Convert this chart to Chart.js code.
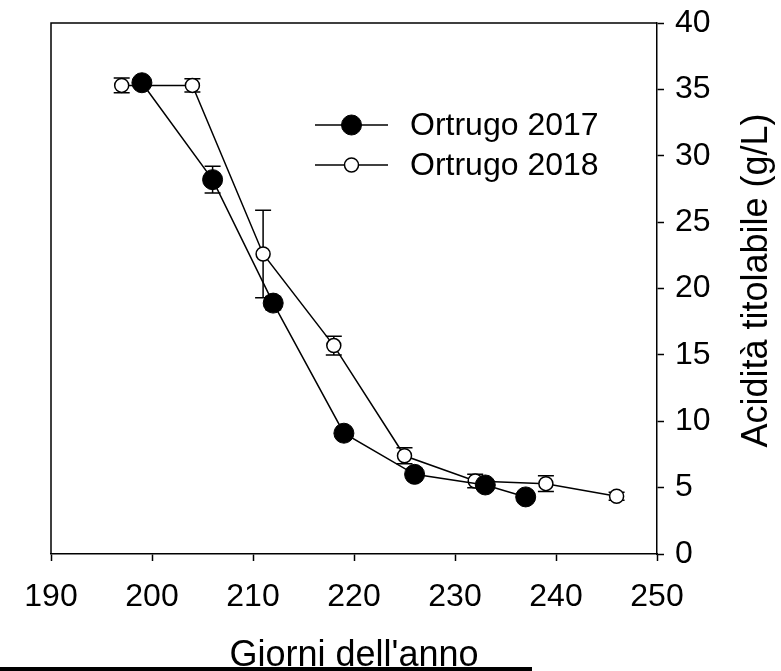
<!DOCTYPE html>
<html>
<head>
<meta charset="utf-8">
<script src="https://cdn.jsdelivr.net/npm/chart.js@4/dist/chart.umd.min.js"></script>
<style>
  html, body { margin: 0; padding: 0; background: #fff; overflow: hidden; }
</style>
</head>
<body>
<canvas id="acidChart" width="781" height="671"></canvas>
<script>
// giorni dell'anno e acidità titolabile (g/L)
const days2017 = [199, 206, 212, 219, 226, 233, 237];
const acid2017 = [35.5, 28.2, 18.9, 9.1, 6.0, 5.2, 4.3];
const err2017 = [0.3, 1.0, 0.5, 0.4, 0.4, 0.4, 0.3];

const days2018 = [197, 204, 211, 218, 225, 232, 239, 246];
const acid2018 = [35.3, 35.3, 22.6, 15.7, 7.4, 5.5, 5.3, 4.35];
const err2018 = [0.55, 0.5, 3.3, 0.7, 0.6, 0.5, 0.6, 0.3];

const seriesLabels = ["Ortrugo 2017", "Ortrugo 2018"];
const xTitle = "Giorni dell'anno";
const yTitle = "Acidità titolabile (g/L)";

const FONT = "'Liberation Sans', Arial, sans-serif";
const TICK_SIZE = 32;
const TITLE_SIZE = 36;

Chart.defaults.font.family = FONT;
Chart.defaults.color = "#000";

function toPoints(xs, ys) {
    return xs.map((x, i) => ({ x: x, y: ys[i] }));
}

// error bars go under the markers
const errorBars = {
    id: "errorBars",
    beforeDatasetsDraw(chart) {
        const ctx = chart.ctx;
        const xs = chart.scales.x;
        const ys = chart.scales.y;
        ctx.save();
        ctx.strokeStyle = "#000";
        ctx.lineWidth = 1.5;
        chart.data.datasets.forEach(ds => {
            ds.data.forEach((p, i) => {
                const e = ds.errors[i];
                if (!e) return;
                const px = xs.getPixelForValue(p.x);
                const top = ys.getPixelForValue(p.y + e);
                const bot = ys.getPixelForValue(p.y - e);
                ctx.beginPath();
                ctx.moveTo(px, top);
                ctx.lineTo(px, bot);
                ctx.moveTo(px - 8, top);
                ctx.lineTo(px + 8, top);
                ctx.moveTo(px - 8, bot);
                ctx.lineTo(px + 8, bot);
                ctx.stroke();
            });
        });
        ctx.restore();
    }
};

const extras = {
    id: "extras",
    afterDraw(chart) {
        const ctx = chart.ctx;
        const area = chart.chartArea;
        ctx.save();

        // top and left frame
        ctx.strokeStyle = "#000";
        ctx.lineWidth = 1.5;
        ctx.beginPath();
        ctx.moveTo(area.left, area.bottom);
        ctx.lineTo(area.left, area.top);
        ctx.lineTo(area.right, area.top);
        ctx.stroke();

        // legend
        ctx.font = TICK_SIZE + "px " + FONT;
        ctx.textBaseline = "middle";
        ctx.textAlign = "left";
        chart.data.datasets.forEach((ds, i) => {
            const ly = 125 + 40 * i;
            ctx.beginPath();
            ctx.lineWidth = 1.5;
            ctx.moveTo(315, ly);
            ctx.lineTo(388, ly);
            ctx.stroke();
            ctx.beginPath();
            ctx.arc(351.5, ly, ds.pointRadius, 0, 2 * Math.PI);
            ctx.fillStyle = ds.pointBackgroundColor;
            ctx.fill();
            ctx.lineWidth = ds.pointBorderWidth;
            ctx.stroke();
            ctx.fillStyle = "#000";
            ctx.fillText(ds.label, 410, ly + 1);
        });

        // right-hand axis title, reading bottom to top
        ctx.save();
        ctx.font = TITLE_SIZE + "px " + FONT;
        ctx.translate(757, (area.top + area.bottom) / 2 - 8);
        ctx.rotate(-Math.PI / 2);
        ctx.textAlign = "center";
        ctx.fillText(yTitle, 0, 0);
        ctx.restore();

        // the thick rule that cuts the x title in the original
        ctx.fillStyle = "#000";
        ctx.fillRect(0, 667, 532, 4);
        ctx.restore();
    }
};

new Chart(document.getElementById("acidChart"), {
    type: "line",
    data: {
        datasets: [{
            label: seriesLabels[0],
            data: toPoints(days2017, acid2017),
            errors: err2017,
            borderColor: "#000",
            borderWidth: 1.5,
            pointRadius: 10,
            pointBackgroundColor: "#000",
            pointBorderColor: "#000",
            pointBorderWidth: 1,
            fill: false
        }, {
            label: seriesLabels[1],
            data: toPoints(days2018, acid2018),
            errors: err2018,
            borderColor: "#000",
            borderWidth: 1.5,
            pointRadius: 7,
            pointBackgroundColor: "#fff",
            pointBorderColor: "#000",
            pointBorderWidth: 1.5,
            fill: false
        }]
    },
    options: {
        responsive: false,
        animation: false,
        devicePixelRatio: 1,
        layout: { padding: { left: 51, top: 23, right: 0, bottom: 0 } },
        plugins: {
            legend: { display: false },
            tooltip: { enabled: false }
        },
        scales: {
            x: {
                type: "linear",
                position: "bottom",
                min: 190,
                max: 250,
                ticks: { stepSize: 10, font: { size: TICK_SIZE }, color: "#000", padding: 17, maxRotation: 0 },
                grid: { drawOnChartArea: false, tickLength: 7, tickColor: "#000", tickWidth: 1.5 },
                border: { color: "#000", width: 1.5 },
                title: {
                    display: true, text: xTitle, color: "#000",
                    font: { size: TITLE_SIZE, lineHeight: 1 },
                    padding: { top: 0, bottom: -3 }
                },
                afterFit(scale) {
                    scale.height = 117;
                    scale.paddingLeft = 0;
                    scale.paddingRight = 0;
                }
            },
            y: {
                type: "linear",
                position: "right",
                min: 0,
                max: 40,
                ticks: { stepSize: 5, font: { size: TICK_SIZE }, color: "#000", padding: 11 },
                grid: { drawOnChartArea: false, tickLength: 7, tickColor: "#000", tickWidth: 1.5 },
                border: { color: "#000", width: 1.5 },
                afterFit(scale) {
                    scale.width = 124;
                    scale.paddingTop = 0;
                    scale.paddingBottom = 0;
                }
            }
        }
    },
    plugins: [errorBars, extras]
});
</script>
</body>
</html>
